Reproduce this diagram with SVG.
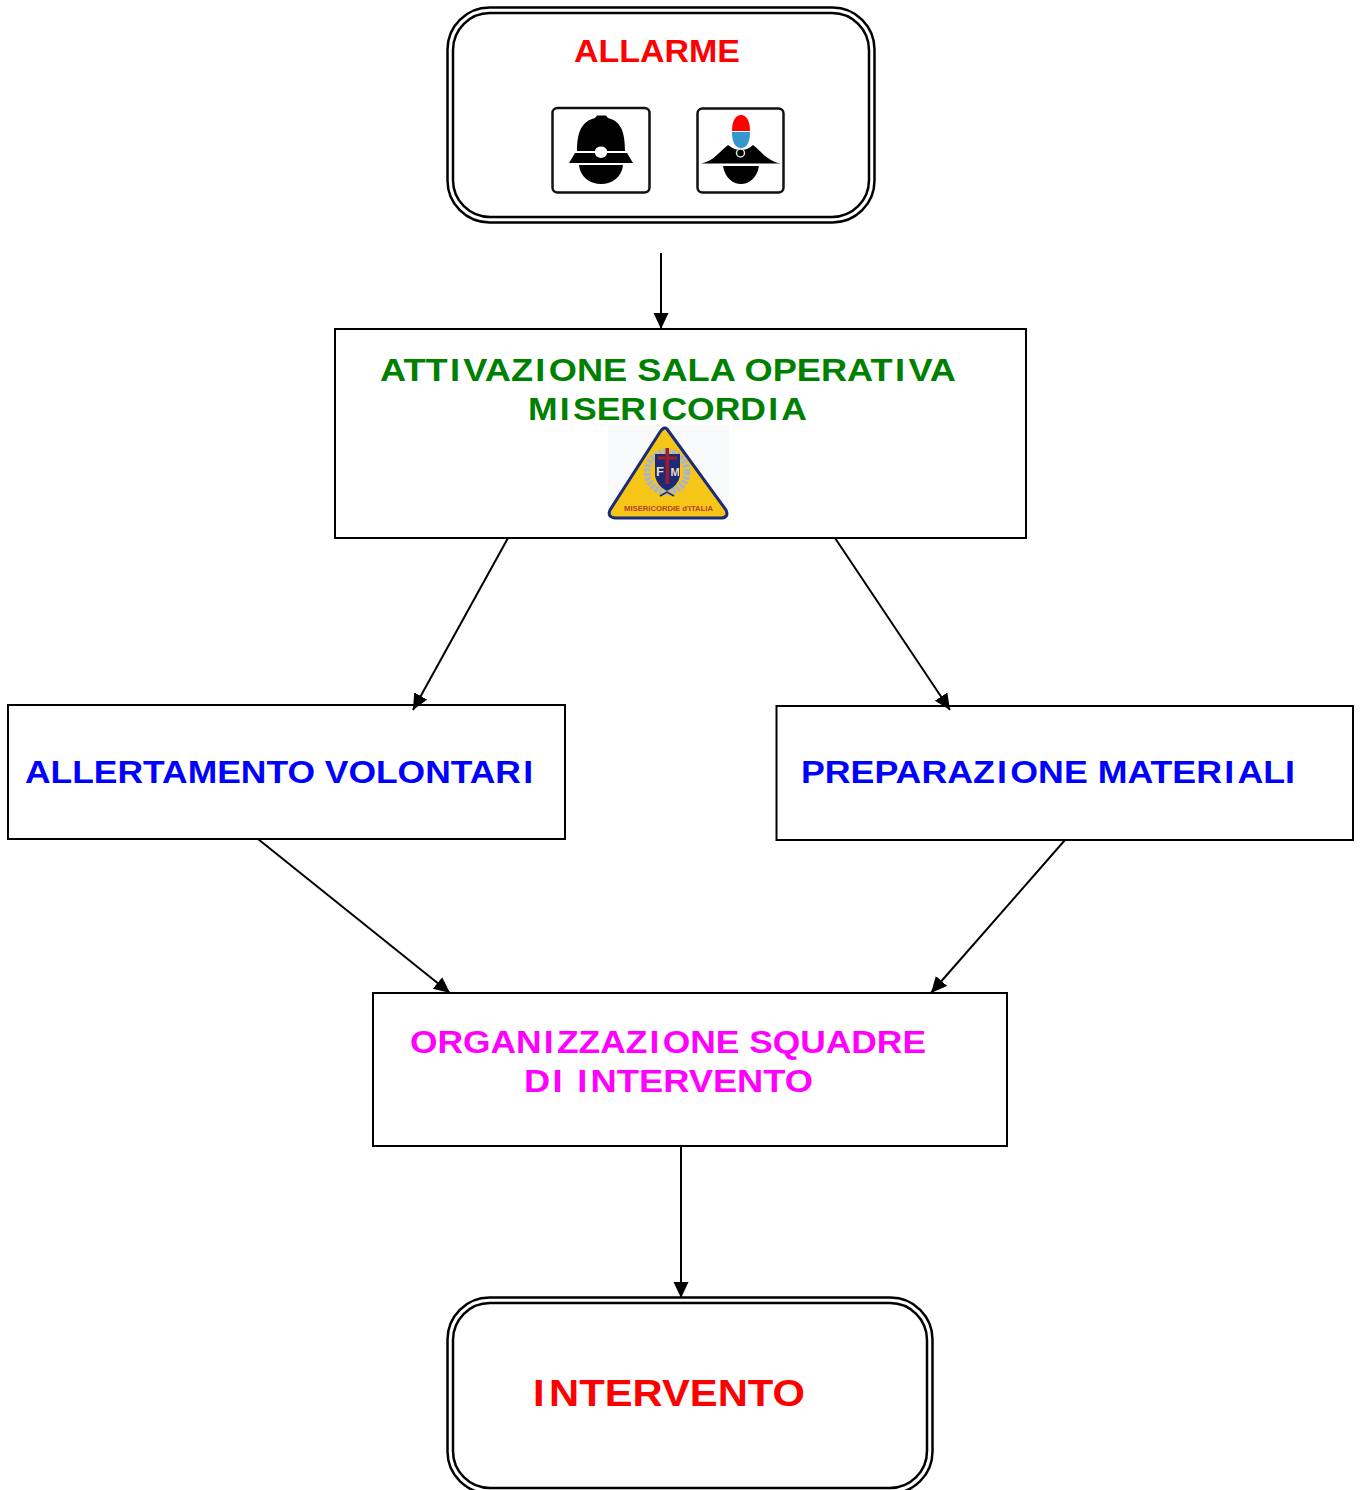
<svg xmlns="http://www.w3.org/2000/svg" width="1360" height="1490" viewBox="0 0 1360 1490">
<defs>
<marker id="arrow" markerUnits="userSpaceOnUse" markerWidth="18" markerHeight="16" refX="16" refY="7.500" orient="auto"><path d="M0 0L16 7.500L0 15Z" fill="#000"/></marker>
</defs>
<style>
.t{font-family:"Liberation Sans",Arial,sans-serif;font-weight:bold;font-size:32px}
.box{fill:#fff;stroke:#000;stroke-width:2}
.rr{fill:#fff;stroke:#000;stroke-width:2.500}
.ln{fill:none;stroke:#000;stroke-width:2}
.ic{fill:#fff;stroke:#111;stroke-width:2.500}
</style>
<rect width="1360" height="1490" fill="#fff"/>
<g id="allarme">
<rect class="rr" x="447.500" y="7.500" width="427" height="215" rx="42"/>
<rect class="rr" x="453" y="13" width="416" height="204" rx="37"/>
<text class="t" x="574" y="62" fill="#f00" textLength="166" lengthAdjust="spacingAndGlyphs">ALLARME</text>
<g id="icon-helmet">
<rect class="ic" x="552.500" y="108" width="97" height="84.500" rx="5"/>
<path d="M577 151C577 130 583 121 595 118L597 115.500H606L608 118C620 121 625 130 625 151Z" fill="#000"/>
<path d="M575 153H595A6 5 0 0 0 607 153H627L633 163H569Z" fill="#000"/>
<ellipse cx="601" cy="151" rx="6" ry="4.500" fill="#fff"/>
<path d="M579 165H623C622 177 612 184 601 184C590 184 580 177 579 165Z" fill="#000"/>
</g>
<g id="icon-carabiniere">
<rect class="ic" x="697.500" y="108.500" width="86" height="84" rx="5"/>
<path d="M732 131C732 120 736 115 741 115C746 115 750 120 750 131Z" fill="#f00"/>
<path d="M732 132H750C750 142 747 148 741 148C735 148 732 142 732 132Z" fill="#3498cf"/>
<path d="M701 163.500C714 161 720 151 728 145C733 149 737 150 741 150C745 150 749 149 753 145C761 151 767 161 781 163.500Z" fill="#000"/>
<circle cx="740.500" cy="153" r="4" fill="#000" stroke="#ddd" stroke-width="1.500"/>
<path d="M723 166H759C757 178 749 184 741 184C733 184 725 178 723 166Z" fill="#000"/>
</g>
</g>
<g id="attivazione">
<rect class="box" x="335" y="329" width="691" height="209"/>
<text class="t" x="380" y="381" fill="#008000" textLength="576" lengthAdjust="spacingAndGlyphs">ATT<tspan dx="2">I</tspan><tspan dx="3">V</tspan>AZ<tspan dx="2">I</tspan><tspan dx="3">O</tspan>NE SALA OPERAT<tspan dx="2">I</tspan><tspan dx="3">V</tspan>A</text>
<text class="t" x="528" y="420" fill="#008000" textLength="279" lengthAdjust="spacingAndGlyphs">M<tspan dx="2">I</tspan><tspan dx="3">S</tspan>ER<tspan dx="2">I</tspan><tspan dx="3">C</tspan>ORD<tspan dx="2">I</tspan><tspan dx="3">A</tspan></text>
<g id="logo">
<rect x="608" y="426" width="121" height="94" fill="#f8f9fb"/>
<path d="M667 429L726 510Q729 517 722 518H615Q607 517 610 510L660 432Q664 426 667 429Z" fill="#f5c518" stroke="#1c2a78" stroke-width="3"/>
<circle cx="667" cy="472" r="20" fill="none" stroke="#a9b4d0" stroke-width="7" stroke-dasharray="3 1.500"/>
<path d="M655 454H680V476Q678 486 667 491Q657 486 655 476Z" fill="#1c2a78"/>
<path d="M665.500 448H669V484H665.500ZM658 456.500H677V459.500H658Z" fill="#a01c2c"/>
<text x="660" y="476" text-anchor="middle" font-family="Liberation Sans,Arial,sans-serif" font-size="13" font-weight="bold" fill="#e8dcc0">F</text>
<text x="675" y="476" text-anchor="middle" font-family="Liberation Sans,Arial,sans-serif" font-size="11" font-weight="bold" fill="#e8dcc0">M</text>
<path d="M660 496L667 492L674 496" fill="none" stroke="#1c2a78" stroke-width="1.500"/>
<text x="624" y="511" font-family="Liberation Sans,Arial,sans-serif" font-size="7.500" font-weight="bold" fill="#b5402a" textLength="89" lengthAdjust="spacingAndGlyphs">MISERICORDIE d'ITALIA</text>
</g>
</g>
<g id="allertamento">
<rect class="box" x="8" y="705" width="557" height="134"/>
<text class="t" x="25" y="783" fill="#00f" textLength="508" lengthAdjust="spacingAndGlyphs">ALLERTAMENTO VOLONTAR<tspan dx="2">I</tspan></text>
</g>
<g id="preparazione">
<rect class="box" x="776.500" y="706" width="576.500" height="134"/>
<text class="t" x="801" y="783" fill="#00f" textLength="494" lengthAdjust="spacingAndGlyphs">PREPARAZ<tspan dx="2">I</tspan><tspan dx="3">O</tspan>NE MATER<tspan dx="2">I</tspan><tspan dx="3">A</tspan>LI</text>
</g>
<g id="organizzazione">
<rect class="box" x="373" y="993" width="634" height="153"/>
<text class="t" x="410" y="1053" fill="#f0f" textLength="516" lengthAdjust="spacingAndGlyphs">ORGAN<tspan dx="2">I</tspan><tspan dx="3">Z</tspan>ZAZ<tspan dx="2">I</tspan><tspan dx="3">O</tspan>NE SQUADRE</text>
<text class="t" x="524" y="1092" fill="#f0f" textLength="289" lengthAdjust="spacingAndGlyphs">D<tspan dx="2">I</tspan> <tspan dx="4">I</tspan><tspan dx="3">N</tspan>TERVENTO</text>
</g>
<g id="intervento">
<rect class="rr" x="447.500" y="1297.500" width="485" height="196" rx="42"/>
<rect class="rr" x="453" y="1303" width="474" height="185" rx="37"/>
<text x="533" y="1406" class="t" style="font-size:37px" fill="#f00" textLength="272" lengthAdjust="spacingAndGlyphs">I<tspan dx="4">N</tspan>TERVENTO</text>
</g>
<g id="connectors">
<line class="ln" x1="661" y1="253" x2="661" y2="329" marker-end="url(#arrow)"/>
<line class="ln" x1="508" y1="538" x2="413" y2="710" marker-end="url(#arrow)"/>
<line class="ln" x1="835" y1="538" x2="950" y2="710" marker-end="url(#arrow)"/>
<line class="ln" x1="258" y1="839" x2="450" y2="993" marker-end="url(#arrow)"/>
<line class="ln" x1="1065" y1="840" x2="931" y2="993" marker-end="url(#arrow)"/>
<line class="ln" x1="681" y1="1146" x2="681" y2="1298" marker-end="url(#arrow)"/>
</g>
</svg>
